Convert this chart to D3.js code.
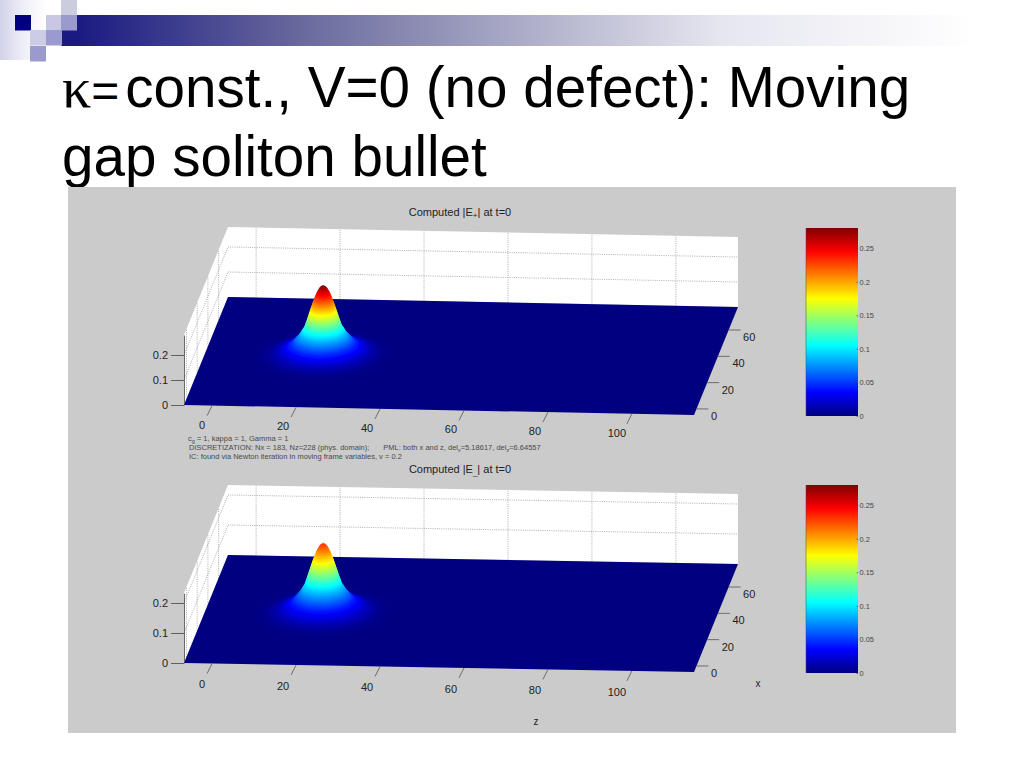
<!DOCTYPE html>
<html><head><meta charset="utf-8">
<script src="https://cdnjs.cloudflare.com/ajax/libs/d3/7.8.5/d3.min.js"></script>
<style>html,body{margin:0;padding:0;background:#fff}svg{display:block}text{font-family:"Liberation Sans",Arial,sans-serif}</style>
</head><body><svg id="c" width="1024" height="768"></svg>
<script>
// ---- data ----
const zTicks = [0, 20, 40, 60, 80, 100];
const xTicks = [0, 20, 40, 60];
const vTicks = [0, 0.1, 0.2];
const cbTicks = [0, 0.05, 0.1, 0.15, 0.2, 0.25];
const cbTickLabels = ["0", "0.05", "0.1", "0.15", "0.2", "0.25"];
const zDomain = [-6.7, 114.8];
const xDomain = [-4.6, 77.5];
const cbDomain = [0, 0.28];
const pulseCentre = [21.4, 35];          // z, x
const pulseAspect = 1.2;                 // x radius / z radius
const pulseLevels = [0.002,0.005,0.01,0.015,0.02,0.025,0.03,0.035,0.04,0.045,0.05,0.055,0.06,0.065,0.07,0.075,0.08,0.085,0.09,0.095,0.1,0.105,0.11,0.115,0.12,0.125,0.13,0.135,0.14,0.145,0.15,0.155,0.16,0.165,0.17,0.175,0.18,0.185,0.19,0.195,0.2,0.205,0.21,0.215,0.22,0.225,0.23,0.235,0.24,0.245,0.25,0.255,0.26,0.265,0.27,0.275,0.28];
const pulseRadii  = [16,14,12.6,11.4,10.6,10,9.4,8.9,8.4,7.9,7.5,7.1,6.9,6.6,6.3,6.05,5.8,5.55,5.35,5.2,5.0,4.8,4.6,4.44,4.34,4.23,4.13,4.02,3.92,3.82,3.72,3.62,3.52,3.43,3.33,3.23,3.13,3.03,2.93,2.83,2.73,2.63,2.53,2.42,2.31,2.2,2.09,1.97,1.85,1.72,1.59,1.44,1.28,1.1,0.9,0.63,0.2];
const panelPeaks = [0.28, 0.233];
const panelTitles = ["+", "_"];

const jetStops = [0, 0.125, 0.375, 0.625, 0.875, 1];
const jetColors = ["#000080", "#0000ff", "#00ffff", "#ffff00", "#ff0000", "#800000"];
// ---- end data ----

const svg = d3.select("#c");
const defs = svg.append("defs");
const jet = d3.scaleLinear().domain(jetStops.map(s => s * cbDomain[1])).range(jetColors).clamp(true);

// slide header
const g1 = defs.append("linearGradient").attr("id","bar");
[[0,"#1a1a82"],[0.24,"#6a6a9e"],[0.46,"#a9a9c6"],[0.68,"#e6e6f0"],[0.95,"#ffffff"]].forEach(s=>g1.append("stop").attr("offset",s[0]).attr("stop-color",s[1]));
const g2 = defs.append("linearGradient").attr("id","glow");
[[0,"#d2d2ea"],[0.5,"#eeeef8"],[1,"#ffffff"]].forEach(s=>g2.append("stop").attr("offset",s[0]).attr("stop-color",s[1]));
svg.append("rect").attr("x",0).attr("y",0).attr("width",46).attr("height",60).attr("fill","url(#glow)");
svg.append("rect").attr("x",77).attr("y",15).attr("width",947).attr("height",31).attr("fill","url(#bar)");
svg.append("rect").attr("x",61).attr("y",30).attr("width",16).attr("height",16).attr("fill","#1a1a82");
const squares = [[15,15,"#000080"],[46,15,"#c8c8e4"],[61,0,"#ccccdf"],[61,15,"#9a9ace"],[30,30,"#ccccE6"],[46,30,"#9a9ace"],[30,46,"#9a9ace"]];
svg.selectAll("rect.sq").data(squares).join("rect").attr("class","sq").attr("x",d=>d[0]).attr("y",d=>d[1]).attr("width",16).attr("height",15.5).attr("fill",d=>d[2]);

// title
const t1 = svg.append("text").attr("x",62).attr("y",107).attr("font-size",56.6).attr("fill","#000");
t1.append("tspan").attr("style",'font-family:"Liberation Serif"').attr("font-size",58).text("κ");
t1.append("tspan").attr("font-size",48).text("=");
t1.append("tspan").attr("dx",6).text("const., V=0 (no defect): Moving");
svg.append("text").attr("x",62).attr("y",176).attr("font-size",56.6).attr("fill","#000").text("gap soliton bullet");

// gray figure
svg.append("rect").attr("x",68).attr("y",187).attr("width",888).attr("height",546).attr("fill","#cbcbcc");
defs.append("filter").attr("id","soft").attr("x","-10%").attr("y","-10%").attr("width","120%").attr("height","120%").append("feGaussianBlur").attr("stdDeviation",0.7);

const panels = [
 {fl:[184,405], fr:[694,415], bl:[228,297], px:250, cy:[806,858,228,416], title:[460,212], lab:23},
 {fl:[184,663], fr:[694,672], bl:[228,555], px:300, cy:[806,858,485,673], title:[460,469], lab:25}
];
const zUnit = d3.scaleLinear().domain(zDomain).range([0,1]);
const xUnit = d3.scaleLinear().domain(xDomain).range([0,1]);
const TXT = "#222";

panels.forEach((p,i)=>{
  const vMax = panelPeaks[i];
  const vPx = d3.scaleLinear().domain([0,1]).range([0,-p.px]);
  const project = (z,x,v)=>{
    const s=zUnit(z), t=xUnit(x);
    return [p.fl[0]+s*(p.fr[0]-p.fl[0])+t*(p.bl[0]-p.fl[0]),
            p.fl[1]+s*(p.fr[1]-p.fl[1])+t*(p.bl[1]-p.fl[1])+vPx(v)];
  };
  const line = d3.line();
  const Z0=zDomain[0],Z1=zDomain[1],X0=xDomain[0],X1=xDomain[1];
  const g = svg.append("g");
  // white walls
  g.append("path").attr("fill","#fff").attr("d",line([project(Z0,X0,0),project(Z0,X0,vMax),project(Z0,X1,vMax),project(Z1,X1,vMax),project(Z1,X1,0),project(Z0,X1,0)])+"Z");
  // dotted grid
  const grid = g.append("g").attr("fill","none").attr("stroke","#999").attr("stroke-width",0.8).attr("stroke-dasharray","1 1.2");
  zTicks.forEach(z=>grid.append("path").attr("d",line([project(z,X1,0),project(z,X1,vMax)])));
  xTicks.forEach(x=>grid.append("path").attr("d",line([project(Z0,x,0),project(Z0,x,vMax)])));
  vTicks.filter(v=>v>0).forEach(v=>grid.append("path").attr("d",line([project(Z0,X0,v),project(Z0,X1,v),project(Z1,X1,v)])));
  // floor
  g.append("path").attr("fill","#000080").attr("d",line([project(Z0,X0,0),project(Z1,X0,0),project(Z1,X1,0),project(Z0,X1,0)])+"Z");
  // pulse
  const ang = d3.range(0,Math.PI*2,Math.PI/40);
  const scaleV = vMax/panelPeaks[0];
  const pulse = g.append("g").attr("filter","url(#soft)");
  pulseLevels.forEach((lv,k)=>{
    const v = lv*scaleV, r = pulseRadii[k];
    pulse.append("path").attr("fill",jet(v)).attr("d",line(ang.map(a=>project(pulseCentre[0]+r*Math.cos(a),pulseCentre[1]+pulseAspect*r*Math.sin(a),v)))+"Z");
  });
  // value axis
  const yAxisScale = d3.scaleLinear().domain([0,vMax]).range([project(Z0,X0,0)[1],project(Z0,X0,vMax)[1]]);
  const ax = g.append("g").attr("transform",`translate(${p.fl[0]},0)`).call(d3.axisLeft(yAxisScale).tickValues(vTicks).tickFormat(d=>d===0?"0":d3.format(".1f")(d)).tickSizeInner(13).tickSizeOuter(0).tickPadding(3));
  ax.selectAll("text").attr("font-size",11).attr("fill",TXT).style("font-family",'"Liberation Sans"');
  ax.selectAll("line").attr("stroke","#444").attr("stroke-width",0.8);
  ax.select(".domain").attr("stroke","#444").attr("stroke-width",0.8);
  // z ticks
  zTicks.forEach(z=>{
    const a=project(z,X0,0);
    g.append("path").attr("stroke","#555").attr("stroke-width",0.8).attr("d",line([a,[a[0]-5,a[1]+10]]));
    g.append("text").attr("x",a[0]-(z===0?10:z===100?15:13)).attr("y",a[1]+p.lab).attr("text-anchor","middle").attr("font-size",11).attr("fill",TXT).text(z);
  });
  // x ticks
  xTicks.forEach(x=>{
    const a=project(Z1,x,0);
    g.append("path").attr("stroke","#555").attr("stroke-width",0.8).attr("d",line([a,[a[0]+12,a[1]]]));
    g.append("text").attr("x",a[0]+14.5).attr("y",a[1]+11).attr("font-size",11).attr("fill",TXT).text(x);
  });
  // title
  const tt=g.append("text").attr("x",p.title[0]).attr("y",p.title[1]+3.5).attr("text-anchor","middle").attr("font-size",11).attr("fill","#222");
  tt.append("tspan").text("Computed |E");
  tt.append("tspan").attr("dy",2.5).attr("font-size",8).text(panelTitles[i]);
  tt.append("tspan").attr("dy",-2.5).text("| at t=0");
  // colourbar
  const [cx0,cx1,cy0,cy1]=p.cy;
  const cb = d3.scaleLinear().domain(cbDomain).range([cy1,cy0]);
  const gid="cbg"+i;
  const gr=defs.append("linearGradient").attr("id",gid).attr("x1",0).attr("x2",0).attr("y1",1).attr("y2",0);
  jetStops.forEach((s,j)=>gr.append("stop").attr("offset",s).attr("stop-color",jetColors[j]));
  g.append("rect").attr("x",cx0).attr("width",cx1-cx0).attr("y",cb(cbDomain[1])).attr("height",cb(cbDomain[0])-cb(cbDomain[1])).attr("fill",`url(#${gid})`);
  const cax=g.append("g").attr("transform",`translate(${cx1},0)`).call(d3.axisRight(cb).tickValues(cbTicks).tickFormat((d,j)=>cbTickLabels[j]).tickSize(-1.5).tickPadding(1.5));
  cax.selectAll("text").attr("font-size",7.4).attr("fill","#444").style("font-family",'"Liberation Sans"');
  cax.selectAll("line").attr("stroke","#333").attr("stroke-width",0.6);
  cax.select(".domain").attr("stroke","none");
  g.append("path").attr("stroke","#445").attr("stroke-width",0.5).attr("d",line([[cx0,cy0],[cx0,cy1]]));
});

// parameter notes
const info = svg.append("g").attr("font-size",7.5).attr("fill","#4a4a4a");
const l1=info.append("text").attr("x",188).attr("y",440.5);
l1.append("tspan").text("c");l1.append("tspan").attr("dy",2).attr("font-size",5.5).text("g");l1.append("tspan").attr("dy",-2).text(" = 1, kappa = 1, Gamma = 1");
const l2=info.append("text").attr("x",189).attr("y",449.5);
l2.append("tspan").text("DISCRETIZATION: Nx = 183, Nz=228 (phys. domain);");
l2.append("tspan").attr("dx",14).text("PML: both x and z, del");
l2.append("tspan").attr("dy",2).attr("font-size",5.5).text("x");
l2.append("tspan").attr("dy",-2).text("=5.18617, del");
l2.append("tspan").attr("dy",2).attr("font-size",5.5).text("z");
l2.append("tspan").attr("dy",-2).text("=6.64557");
info.append("text").attr("x",189).attr("y",458.5).text("IC: found via Newton iteration in moving frame variables, v = 0.2");

// axis names of the lower panel
svg.append("text").attr("x",758).attr("y",687).attr("text-anchor","middle").attr("font-size",10).attr("fill",TXT).text("x");
svg.append("text").attr("x",536).attr("y",725).attr("text-anchor","middle").attr("font-size",10).attr("fill",TXT).text("z");
</script></body></html>
